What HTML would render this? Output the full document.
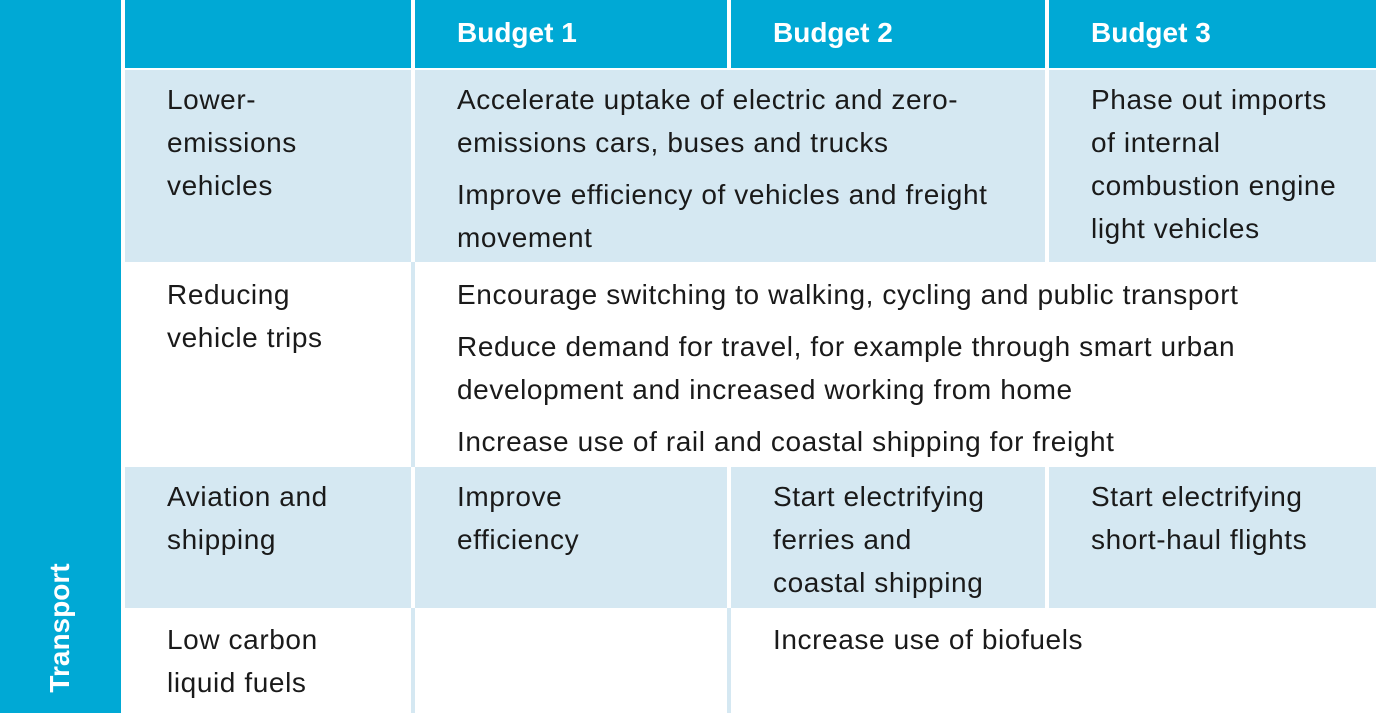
<!DOCTYPE html>
<html><head><meta charset="utf-8"><style>
html,body{margin:0;padding:0;width:1376px;height:713px;overflow:hidden;background:#fff;font-family:"Liberation Sans",sans-serif;}
.b{position:absolute;}
.blue{background:#00a9d5;}
.lt{background:#d5e8f2;}
.t{position:absolute;font-size:28px;letter-spacing:0.6px;line-height:43px;color:#1a1a1a;white-space:nowrap;}
.t p{margin:0 0 9px 0;}
.h{position:absolute;top:13px;font-size:28px;font-weight:bold;color:#fff;line-height:40px;}
</style></head><body>
<div class="b blue" style="left:0;top:0;width:121px;height:713px;"></div>
<div class="b" style="left:60px;top:628px;transform:translate(-50%,-50%) rotate(-90deg);color:#fff;font-weight:bold;font-size:28px;white-space:nowrap;">Transport</div>

<div class="b blue" style="left:125px;top:0;width:286px;height:68px;"></div>
<div class="b blue" style="left:415px;top:0;width:312px;height:68px;"></div>
<div class="b blue" style="left:731px;top:0;width:314px;height:68px;"></div>
<div class="b blue" style="left:1049px;top:0;width:327px;height:68px;"></div>
<div class="h" style="left:457px;">Budget 1</div>
<div class="h" style="left:773px;">Budget 2</div>
<div class="h" style="left:1091px;">Budget 3</div>

<div class="b lt" style="left:125px;top:70px;width:286px;height:192px;"></div>
<div class="b lt" style="left:415px;top:70px;width:630px;height:192px;"></div>
<div class="b lt" style="left:1049px;top:70px;width:327px;height:192px;"></div>
<div class="t" style="left:167px;top:78px;">Lower-<br>emissions<br>vehicles</div>
<div class="t" style="left:457px;top:78px;"><p>Accelerate uptake of electric and zero-<br>emissions cars, buses and trucks</p><p>Improve efficiency of vehicles and freight<br>movement</p></div>
<div class="t" style="left:1091px;top:78px;">Phase out imports<br>of internal<br>combustion engine<br>light vehicles</div>

<div class="b lt" style="left:411px;top:262px;width:4px;height:205px;"></div>
<div class="t" style="left:167px;top:273px;">Reducing<br>vehicle trips</div>
<div class="t" style="left:457px;top:273px;"><p>Encourage switching to walking, cycling and public transport</p><p>Reduce demand for travel, for example through smart urban<br>development and increased working from home</p><p>Increase use of rail and coastal shipping for freight</p></div>

<div class="b lt" style="left:125px;top:467px;width:286px;height:141px;"></div>
<div class="b lt" style="left:415px;top:467px;width:312px;height:141px;"></div>
<div class="b lt" style="left:731px;top:467px;width:314px;height:141px;"></div>
<div class="b lt" style="left:1049px;top:467px;width:327px;height:141px;"></div>
<div class="t" style="left:167px;top:475px;">Aviation and<br>shipping</div>
<div class="t" style="left:457px;top:475px;">Improve<br>efficiency</div>
<div class="t" style="left:773px;top:475px;">Start electrifying<br>ferries and<br>coastal shipping</div>
<div class="t" style="left:1091px;top:475px;">Start electrifying<br>short-haul flights</div>

<div class="b lt" style="left:411px;top:608px;width:4px;height:105px;"></div>
<div class="b lt" style="left:727px;top:608px;width:4px;height:105px;"></div>
<div class="t" style="left:167px;top:618px;">Low carbon<br>liquid fuels</div>
<div class="t" style="left:773px;top:618px;">Increase use of biofuels</div>
</body></html>
